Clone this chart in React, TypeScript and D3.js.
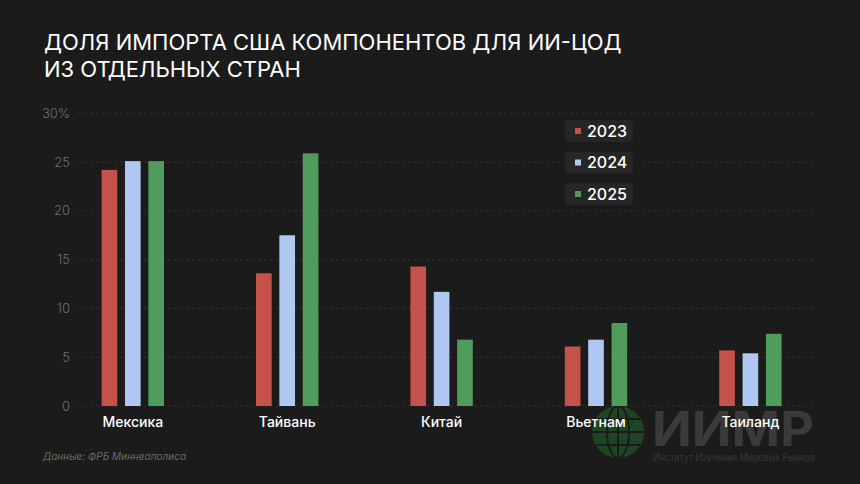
import React, { useEffect } from "react";
import * as d3 from "d3";

const countries = ["Мексика", "Тайвань", "Китай", "Вьетнам", "Таиланд"];
const years = ["2023", "2024", "2025"];
const values2023 = [24.2, 13.6, 14.3, 6.1, 5.7];
const values2024 = [25.1, 17.5, 11.7, 6.8, 5.4];
const values2025 = [25.1, 25.9, 6.8, 8.5, 7.4];
const yTicks = [0, 5, 10, 15, 20, 25, 30];

const series = [values2023, values2024, values2025];
const colors = ["#c4524a", "#aec8f2", "#519c5b"];

const W = 860;
const H = 484;
const BG = "#1b1b1b";
const FONT = "Inter, 'Noto Sans', sans-serif";

export default function App() {
  useEffect(() => {
    // full-bleed dark page, no default body margin
    document.body.style.margin = "0";
    document.body.style.background = BG;
    document.body.style.overflow = "hidden";
  }, []);

  const y = d3.scaleLinear().domain([0, 30]).range([406, 113.3]);
  const x = d3.scalePoint<string>().domain(countries).range([55.6, 827.6]).padding(0.5);
  const xi = d3.scaleBand<string>().domain(years).range([-31.2, 31.2]).paddingInner(0.33);

  return (
    <svg width={W} height={H} style={{ display: "block", background: BG }}>
      <rect width={W} height={H} fill={BG} />

      {/* title */}
      <text x={44} y={50} fill="#ffffff" fontFamily={FONT} fontSize={22} fontWeight={400}>
        <tspan x={44}>ДОЛЯ ИМПОРТА США КОМПОНЕНТОВ ДЛЯ ИИ-ЦОД</tspan>
        <tspan x={44} dy={27}>ИЗ ОТДЕЛЬНЫХ СТРАН</tspan>
      </text>

      {/* grid + y ticks */}
      {yTicks.map((t) => (
        <g key={t}>
          <line
            x1={78}
            x2={816}
            y1={y(t)}
            y2={y(t)}
            stroke="#313131"
            strokeWidth={1}
            strokeDasharray="3 3"
          />
          <text
            x={70}
            y={y(t)}
            dy="0.35em"
            textAnchor="end"
            fill="#6e6e6e"
            fontFamily={FONT}
            fontSize={13}
            fontWeight={300}
          >
            {t === 30 ? "30%" : t}
          </text>
        </g>
      ))}

      {/* watermark logo */}
      <g>
        <circle cx={618} cy={432} r={26} fill="#1f4424" />
        <ellipse cx={618} cy={432} rx={11} ry={26} fill="none" stroke={BG} strokeWidth={2} />
        <line x1={592} x2={644} y1={432} y2={432} stroke={BG} strokeWidth={2} />
        <line x1={618} x2={618} y1={406} y2={458} stroke={BG} strokeWidth={2} />
        <line x1={596} x2={640} y1={419} y2={419} stroke={BG} strokeWidth={2} />
        <line x1={596} x2={640} y1={445} y2={445} stroke={BG} strokeWidth={2} />
      </g>
      <text
        x={652}
        y={446}
        fill="#3a3a3a"
        fontFamily={FONT}
        fontSize={48}
        fontWeight={700}
        textLength={162}
        lengthAdjust="spacingAndGlyphs"
      >
        ИИМР
      </text>
      <text
        x={653}
        y={461}
        fill="#383838"
        fontFamily={FONT}
        fontSize={10}
        textLength={162}
        lengthAdjust="spacingAndGlyphs"
      >
        Институт Изучения Мировых Рынков
      </text>

      {/* bars */}
      {countries.map((c, i) => (
        <g key={c} transform={`translate(${x(c)},0)`}>
          {years.map((yr, j) => (
            <rect
              key={yr}
              x={xi(yr)}
              y={y(series[j][i])}
              width={xi.bandwidth()}
              height={y(0) - y(series[j][i])}
              fill={colors[j]}
            />
          ))}
          <text
            x={0}
            y={427}
            textAnchor="middle"
            fill="#ffffff"
            fontFamily={FONT}
            fontSize={14}
            fontWeight={500}
          >
            {c}
          </text>
        </g>
      ))}

      {/* legend */}
      {years.map((yr, j) => (
        <g key={yr} transform={`translate(565,${120 + j * 31.5})`}>
          <rect width={68} height={22} rx={4} fill="#262626" />
          <rect x={10} y={8} width={6} height={6} fill={colors[j]} />
          <text x={22} y={11} dy="0.36em" fill="#ffffff" fontFamily={FONT} fontSize={16} fontWeight={500}>
            {yr}
          </text>
        </g>
      ))}

      {/* source */}
      <text x={43} y={460} fill="#6a6a6a" fontFamily={FONT} fontSize={10} fontStyle="italic">
        Данные: ФРБ Миннеаполиса
      </text>
    </svg>
  );
}
